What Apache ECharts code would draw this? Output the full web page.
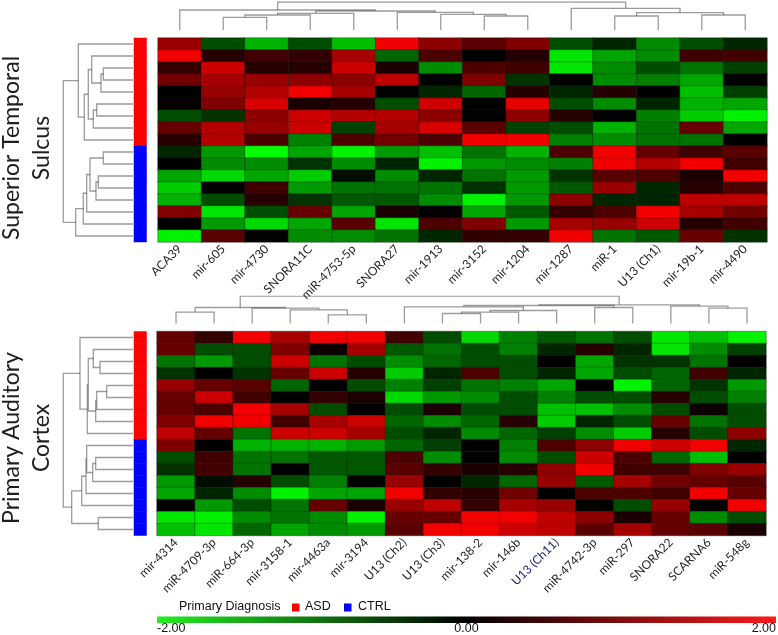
<!DOCTYPE html>
<html><head><meta charset="utf-8">
<script src="https://cdn.jsdelivr.net/npm/echarts@6/dist/echarts.min.js"></script>
<style>html,body{margin:0;padding:0;background:#fff}#c{width:778px;height:635px}</style>
</head><body><div id="c"></div>
<script>
// ---------- Superior Temporal Sulcus ----------
const stsGenes = ['ACA39','mir-605','mir-4730','SNORA11C','miR-4753-5p','SNORA27','mir-1913','mir-3152','mir-1204','mir-1287','miR-1','U13 (Ch1)','mir-19b-1','mir-4490'];
// one array per column, rows top -> bottom
const stsValues = [
  [1.2,1.9,0.4,0.9,0,0.05,-0.6,0.8,0.3,-0.3,0,-1.3,-1.6,-1.4,1.0,0,-1.9],
  [-0.6,0.3,1.6,1.3,1.2,1.0,-0.4,1.4,1.4,-1.2,-1.1,-1.7,0,-0.6,-1.8,-1.2,0.7],
  [-1.4,0.5,0.3,1.2,1.4,1.7,1.1,1.2,0.6,-2.0,-1.1,-1.3,0.5,0.3,-0.6,-1.7,0],
  [-0.6,0.4,0.3,1.1,1.9,0.2,1.6,1.6,-1.0,-1.3,-0.4,-1.6,-1.2,-0.4,0.8,-1.3,-1.1],
  [-1.5,1.3,1.6,1.1,1.3,0.3,1.4,-0.5,0.6,-1.9,-1.1,-0.1,-0.9,-0.7,-1.3,0.7,-1.1],
  [1.9,-0.8,0.2,1.5,0,-0.6,1.4,1.3,0.9,-1.2,-0.3,-1.1,-0.9,-0.7,0.2,-1.8,-0.9],
  [1.1,0.6,-1.1,0,-0.3,1.6,1.1,1.7,0.6,-1.5,-1.9,-0.3,-0.9,-1.1,0,0.6,-0.3],
  [0.7,0,0.6,1.0,-0.8,0,0,0.7,1.9,-0.9,-1.2,-0.9,-0.4,-1.9,-1.3,1.0,0.4],
  [1.0,0.3,0.5,-0.4,0.3,1.8,1.1,-0.5,1.9,-1.4,-1.1,-1.2,-1.2,-1.2,-0.7,-1.2,0.4],
  [-0.6,-1.8,-1.8,0,-0.3,-0.6,0.3,-0.6,-1.0,0.6,-1.0,-0.4,-0.7,1.1,0.4,1.3,1.9],
  [-0.3,-1.3,-1.1,-1.1,0.3,-1.1,0,-1.4,-1.1,1.9,1.9,0.7,1.2,-0.3,0.6,1.2,-0.9],
  [-1.1,-1.1,-0.6,-1.0,0,-0.3,-1.0,-0.9,-0.9,0.8,1.4,0.6,-0.3,-0.3,1.9,1.6,-0.7],
  [-0.6,0.5,-0.9,-1.3,-1.5,-1.4,-1.6,0.8,-0.9,0.5,1.9,0.2,0.3,1.5,1.3,0.3,0.8],
  [-0.3,0.5,-0.5,0,-0.5,-1.3,-1.9,-1.3,0,0.7,0.5,1.9,0.6,1.5,0.9,0.5,-0.4]
];
const stsGroups = ['ASD','ASD','ASD','ASD','ASD','ASD','ASD','ASD','ASD','CTRL','CTRL','CTRL','CTRL','CTRL','CTRL','CTRL','CTRL'];
// merges: [childA, childB, distance]; child >= n refers to an earlier merge
const stsColMerges = [[1,2,12.7],[14,3,15],[15,4,16.7],[7,8,14],[6,17,15.7],[5,18,17.7],[16,19,19],[0,20,20],[10,11,14],[12,13,15],[22,23,17.3],[9,24,21.7],[21,25,28]];
const stsRowMerges = [[2,3,29.7],[17,4,32],[1,18,41.3],[5,6,36.3],[20,7,39.7],[19,21,44.7],[22,8,48.7],[0,23,54.7],[9,10,29.7],[11,12,34.7],[26,13,37],[25,27,43],[28,14,46.3],[29,15,49.7],[30,16,57.3],[24,31,69.7]];

// ---------- Primary Auditory Cortex ----------
const pacGenes = ['mir-4314','miR-4709-3p','miR-664-3p','mir-3158-1','mir-4463a','mir-3194','U13 (Ch2)','U13 (Ch3)','mir-138-2','mir-146b','U13 (Ch11)','miR-4742-3p','miR-297','SNORA22','SCARNA6','miR-548g'];
const pacValues = [
  [0.8,0.8,-0.9,-0.4,1.2,0.8,0.8,1.0,1.5,1.0,-0.6,-0.4,-1.2,-1.3,0,-1.8,-1.5],
  [0.4,-0.6,-1.2,0,0.8,1.6,0.6,1.9,0.8,0,0.5,0.5,-0.1,-0.3,-1.2,-1.9,-1.8],
  [1.9,-0.6,-0.6,-0.4,0.7,0.5,1.9,1.9,-0.9,-1.4,-0.9,-0.9,0.3,-1.1,-0.6,-1.1,-0.8],
  [1.3,1.0,1.6,0.8,-0.8,0,1.3,0.5,1.6,-1.4,-0.9,0,-0.6,-1.9,-0.9,-0.9,-1.3],
  [1.9,0.1,-0.9,1.6,0,0.4,-0.6,1.3,1.6,-1.4,-0.7,-0.7,-1.0,-1.3,0.8,-1.1,-1.1],
  [1.9,1.3,-0.6,0.3,-0.6,0.2,0,1.6,1.3,-1.2,-0.7,-0.7,0,-1.3,0.2,-1.9,-1.2],
  [0.5,-0.7,-1.1,-1.6,-1.0,-1.7,-0.6,-0.8,-0.6,-0.8,0.6,0.7,1.2,1.9,1.2,0.8,0.7],
  [-0.6,-0.9,-0.8,-0.3,-0.5,-1.2,0.2,-1.1,-0.3,-0.5,-1.1,0.4,0,0.4,1.5,0.8,1.9],
  [-1.7,-0.6,-0.6,0.6,-0.9,-1.1,-0.6,-0.8,-1.1,0,0,0.2,-0.3,0.3,0.4,1.9,1.9],
  [-1.0,-1.0,-0.6,-0.6,-1.0,-0.6,-0.6,0.3,-0.8,-1.0,-1.1,0.3,-0.8,0.9,1.3,1.9,1.6],
  [-0.7,-0.3,0,-0.3,-1.3,-1.0,-1.5,-1.6,-0.5,0.6,-0.6,1.1,1.2,0,1.2,1.5,1.5],
  [-0.9,0.3,-1.3,-1.3,0,-0.6,-1.5,-0.3,-1.1,1.1,1.6,1.9,-0.7,0.6,0,1.1,0.7],
  [-0.6,-0.3,-0.4,-0.6,-1.9,-0.6,-1.1,-0.6,-1.6,1.9,0.6,0.5,1.3,0.6,-0.6,0.2,1.3],
  [-1.8,-1.8,-0.4,-0.8,-0.8,0.3,-0.6,0.8,0.3,1.6,-0.8,0.5,0.9,0.5,1.2,0.8,0.8],
  [-1.5,-1.1,-0.9,0.5,-0.4,-0.6,0.1,-0.9,-0.6,1.9,-1.5,1.0,0.8,1.9,0,-1.1,0.7],
  [-1.9,-0.5,0,-0.3,-1.2,-1.0,-0.6,-0.6,1.1,-0.3,0,1.2,0.7,0.8,1.9,-0.6,0.2]
];
const pacGroups = ['ASD','ASD','ASD','ASD','ASD','ASD','ASD','ASD','ASD','CTRL','CTRL','CTRL','CTRL','CTRL','CTRL','CTRL','CTRL'];
const pacColMerges = [[0,1,11.3],[4,5,8.7],[3,17,13.7],[2,18,15.3],[16,19,16],[7,8,10],[21,9,11.3],[22,10,13],[6,23,16.7],[11,12,16],[24,25,18],[14,15,15.3],[13,27,17.3],[26,28,18.7],[20,29,27.3]];
const pacRowMerges = [[2,3,33],[1,17,39.7],[4,5,26.3],[19,6,36.3],[20,7,37.3],[18,21,44.7],[22,8,45.7],[0,23,53],[10,11,37.3],[25,12,40.3],[9,26,46.3],[27,13,47],[28,14,51.3],[15,16,34.7],[29,30,61.3],[24,31,69.7]];

// ---------- legend / scale ----------
const legendGroups = ['ASD','CTRL'];
const groupColors = ['#ff0000','#0000ff'];
const scaleTicks = ['-2.00','0.00','2.00'];
const scaleMin = -2, scaleMax = 2;

function heatData(values){
  const d=[]; values.forEach((col,c)=>col.forEach((v,r)=>d.push([c,r,v]))); return d;
}
function groupData(groups){ return groups.map((g,r)=>[0,r,legendGroups.indexOf(g)]); }
function dendro(merges, n, vertical){
  const pos=[],h=[]; for(let i=0;i<n;i++){pos.push(i);h.push(0);}
  const segs=[];
  merges.forEach(([a,b,d])=>{
    if(vertical) segs.push({coords:[[pos[a],h[a]],[pos[a],d],[pos[b],d],[pos[b],h[b]]]});
    else segs.push({coords:[[h[a],pos[a]],[d,pos[a]],[d,pos[b]],[h[b],pos[b]]]});
    pos.push((pos[a]+pos[b])/2); h.push(d);
  });
  return segs;
}
const rows = stsGroups.map((_,i)=>String(i));
const maxD = (m)=>m[m.length-1][2];

const chart = echarts.init(document.getElementById('c'));
const hid = {show:false};
const labelStyle = {rotate:45, interval:0, fontSize:12, color:'#1e1e1e', fontFamily:'Lato', margin:5};
const catX = (gi, data, show)=>({type:'category', gridIndex:gi, data, axisLine:hid, axisTick:hid, splitLine:hid, axisLabel: show? labelStyle : hid});
const catY = (gi)=>({type:'category', gridIndex:gi, data:rows, inverse:true, show:false});
const valAx = (gi,min,max,inv)=>({type:'value', gridIndex:gi, min, max, inverse:!!inv, show:false, splitLine:hid});

const G = [
  {left:158, top:38, width:609, height:204},
  {left:157, top:331.5, width:609, height:204},
  {left:134, top:38, width:12.5, height:204},
  {left:134, top:331.5, width:12.5, height:204},
  {left:158, top:2, width:609, height:28},
  {left:157, top:331.5-8-maxD(pacColMerges), width:609, height:maxD(pacColMerges)},
  {left:133-maxD(stsRowMerges), top:38, width:maxD(stsRowMerges), height:204},
  {left:133-maxD(pacRowMerges), top:331.5, width:maxD(pacRowMerges), height:204}
];

const lineStyle = {color:'#3a3a3a', width:1.3};
const cellStyle = {borderColor:'rgba(30,30,30,0.55)', borderWidth:0.7};

const barL = 157, barW = 619, barY = 616.5, barH = 6.5;

const option = {
  animation:false,
  backgroundColor:'#fff',
  grid: G,
  xAxis: [
    catX(0, stsGenes, true),
    catX(1, pacGenes.map(g=> g==='U13 (Ch11)' ? {value:g, textStyle:{color:'#24247a'}} : g), true),
    catX(2, ['g'], false),
    catX(3, ['g'], false),
    valAx(4, -0.5, stsGenes.length-0.5),
    valAx(5, -0.5, pacGenes.length-0.5),
    valAx(6, 0, maxD(stsRowMerges), true),
    valAx(7, 0, maxD(pacRowMerges), true)
  ],
  yAxis: [
    catY(0), catY(1), catY(2), catY(3),
    valAx(4, 0, maxD(stsColMerges)),
    valAx(5, 0, maxD(pacColMerges)),
    valAx(6, -0.5, stsGroups.length-0.5, true),
    valAx(7, -0.5, pacGroups.length-0.5, true)
  ],
  visualMap: [
    {type:'continuous', min:scaleMin, max:scaleMax, seriesIndex:[0,1], show:false, dimension:2,
     inRange:{color:['#00ff00','#000000','#ff0000']}},
    {type:'piecewise', seriesIndex:[2,3], show:false, dimension:2,
     pieces: legendGroups.map((g,i)=>({value:i, color:groupColors[i]}))}
  ],
  series: [
    {type:'heatmap', xAxisIndex:0, yAxisIndex:0, data:heatData(stsValues), itemStyle:cellStyle, silent:true},
    {type:'heatmap', xAxisIndex:1, yAxisIndex:1, data:heatData(pacValues), itemStyle:cellStyle, silent:true},
    {type:'heatmap', xAxisIndex:2, yAxisIndex:2, data:groupData(stsGroups), silent:true},
    {type:'heatmap', xAxisIndex:3, yAxisIndex:3, data:groupData(pacGroups), silent:true},
    {type:'lines', coordinateSystem:'cartesian2d', xAxisIndex:4, yAxisIndex:4, polyline:true, data:dendro(stsColMerges, stsGenes.length, true), lineStyle, silent:true},
    {type:'lines', coordinateSystem:'cartesian2d', xAxisIndex:5, yAxisIndex:5, polyline:true, data:dendro(pacColMerges, pacGenes.length, true), lineStyle, silent:true},
    {type:'lines', coordinateSystem:'cartesian2d', xAxisIndex:6, yAxisIndex:6, polyline:true, data:dendro(stsRowMerges, stsGroups.length, false), lineStyle, silent:true},
    {type:'lines', coordinateSystem:'cartesian2d', xAxisIndex:7, yAxisIndex:7, polyline:true, data:dendro(pacRowMerges, pacGroups.length, false), lineStyle, silent:true}
  ],
  graphic: [
    {type:'text', x:27, y:148, rotation:Math.PI/2, silent:true,
     style:{text:'Superior Temporal\nSulcus', font:'23px Lato', fill:'#1e1e1e', align:'center', verticalAlign:'middle', lineHeight:30}},
    {type:'text', x:27, y:438, rotation:Math.PI/2, silent:true,
     style:{text:'Primary Auditory\nCortex', font:'23px Lato', fill:'#1e1e1e', align:'center', verticalAlign:'middle', lineHeight:30}},
    {type:'text', x:179, y:607, silent:true, style:{text:'Primary Diagnosis', font:'12.5px "Liberation Sans"', fill:'#111', verticalAlign:'middle'}},
    {type:'rect', silent:true, shape:{x:292, y:603.5, width:7.5, height:8}, style:{fill:groupColors[0]}},
    {type:'text', x:305, y:607, silent:true, style:{text:legendGroups[0], font:'12.5px "Liberation Sans"', fill:'#111', verticalAlign:'middle'}},
    {type:'rect', silent:true, shape:{x:344, y:603.5, width:7.5, height:8}, style:{fill:groupColors[1]}},
    {type:'text', x:358, y:607, silent:true, style:{text:legendGroups[1], font:'12.5px "Liberation Sans"', fill:'#111', verticalAlign:'middle'}},
    {type:'rect', silent:true, shape:{x:barL, y:barY, width:barW, height:barH},
     style:{fill:{type:'linear', x:0, y:0, x2:1, y2:0, colorStops:[{offset:0,color:'#22ee22'},{offset:0.5,color:'#000000'},{offset:1,color:'#ff1a1a'}]}}}
  ].concat(scaleTicks.map((t,i)=>({
    type:'text', silent:true, x: barL + barW*i/(scaleTicks.length-1), y:629,
    style:{text:t, font:'12.5px "Liberation Sans"', fill:'#111', verticalAlign:'middle',
      align: i===0 ? 'left' : (i===scaleTicks.length-1 ? 'right' : 'center')}
  })))
};
chart.setOption(option);
</script>
</body></html>
